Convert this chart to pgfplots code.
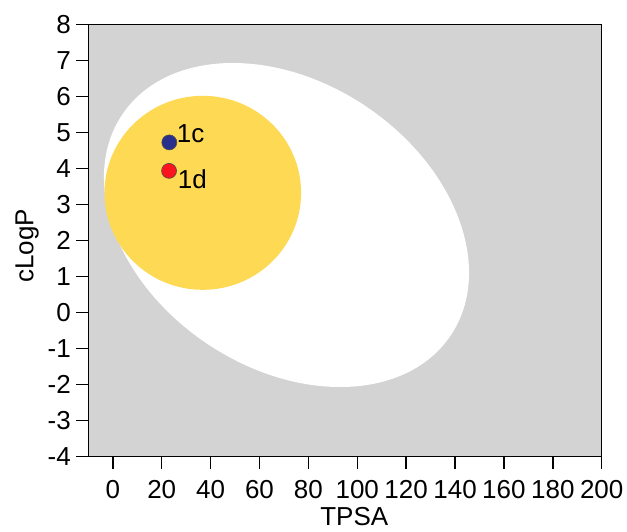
\documentclass[border=0pt]{standalone}
\usepackage{fontspec}
\setmainfont{Liberation Sans}
\usepackage{pgfplots}
\pgfplotsset{compat=1.18}
\definecolor{bggray}{RGB}{211,211,211}
\definecolor{yolk}{RGB}{254,217,84}
\definecolor{dotblue}{RGB}{40,48,140}
\definecolor{dotred}{RGB}{250,20,30}
\begin{document}
\begin{tikzpicture}
\path[use as bounding box] (-88.4pt,-75.3pt) rectangle (538.6pt,456.7pt);
\begin{axis}[
  at={(0pt,0pt)}, anchor=south west,
  scale only axis, width=513.3pt, height=432pt,
  xmin=-10, xmax=200, ymin=-4, ymax=8,
  xtick={0,20,...,200},
  ytick={-4,-3,...,8},
  yticklabels={-4,-3,-2,-1,0,1,2,3,4,5,6,7,8},
  xticklabels={0,20,40,60,80,100,120,140,160,180,200},
  tick align=outside, tick pos=left,
  major tick length=12pt,
  every tick/.style={black, line width=1.4pt},
  axis line style={black, line width=1.4pt},
  axis background/.style={fill=bggray},
  tick label style={font=\fontsize{26}{30}\selectfont},
  xticklabel style={yshift=-8pt},
  yticklabel style={xshift=-2pt},
  label style={font=\fontsize{26}{30}\selectfont},
  xlabel={TPSA}, ylabel={cLogP},
  x label style={at={(axis description cs:0.518,0)}, anchor=base, yshift=-68.5pt},
  y label style={at={(axis description cs:-0.1073,0.488)}, anchor=base},
]
\fill[white, rotate around={-33.95:(axis cs:71.04,2.436)}] (axis cs:71.04,2.436) ellipse [x radius=197.9pt, y radius=142.8pt];
\fill[yolk] (axis cs:36.8,3.33) ellipse [x radius=98.3pt, y radius=97pt];
\addplot[only marks, mark=*, mark size=7.5pt, mark options={fill=dotblue, draw=black!70, line width=0.6pt}] coordinates {(23.1,4.73)};
\addplot[only marks, mark=*, mark size=7.5pt, mark options={fill=dotred, draw=black!70, line width=0.6pt}] coordinates {(23.0,3.94)};
\node[anchor=base west, inner sep=0pt, font=\fontsize{26}{30}\selectfont] at (axis cs:26.1,4.74) {1c};
\node[anchor=base west, inner sep=0pt, font=\fontsize{26}{30}\selectfont] at (axis cs:26.5,3.46) {1d};
\end{axis}
\end{tikzpicture}
\end{document}
